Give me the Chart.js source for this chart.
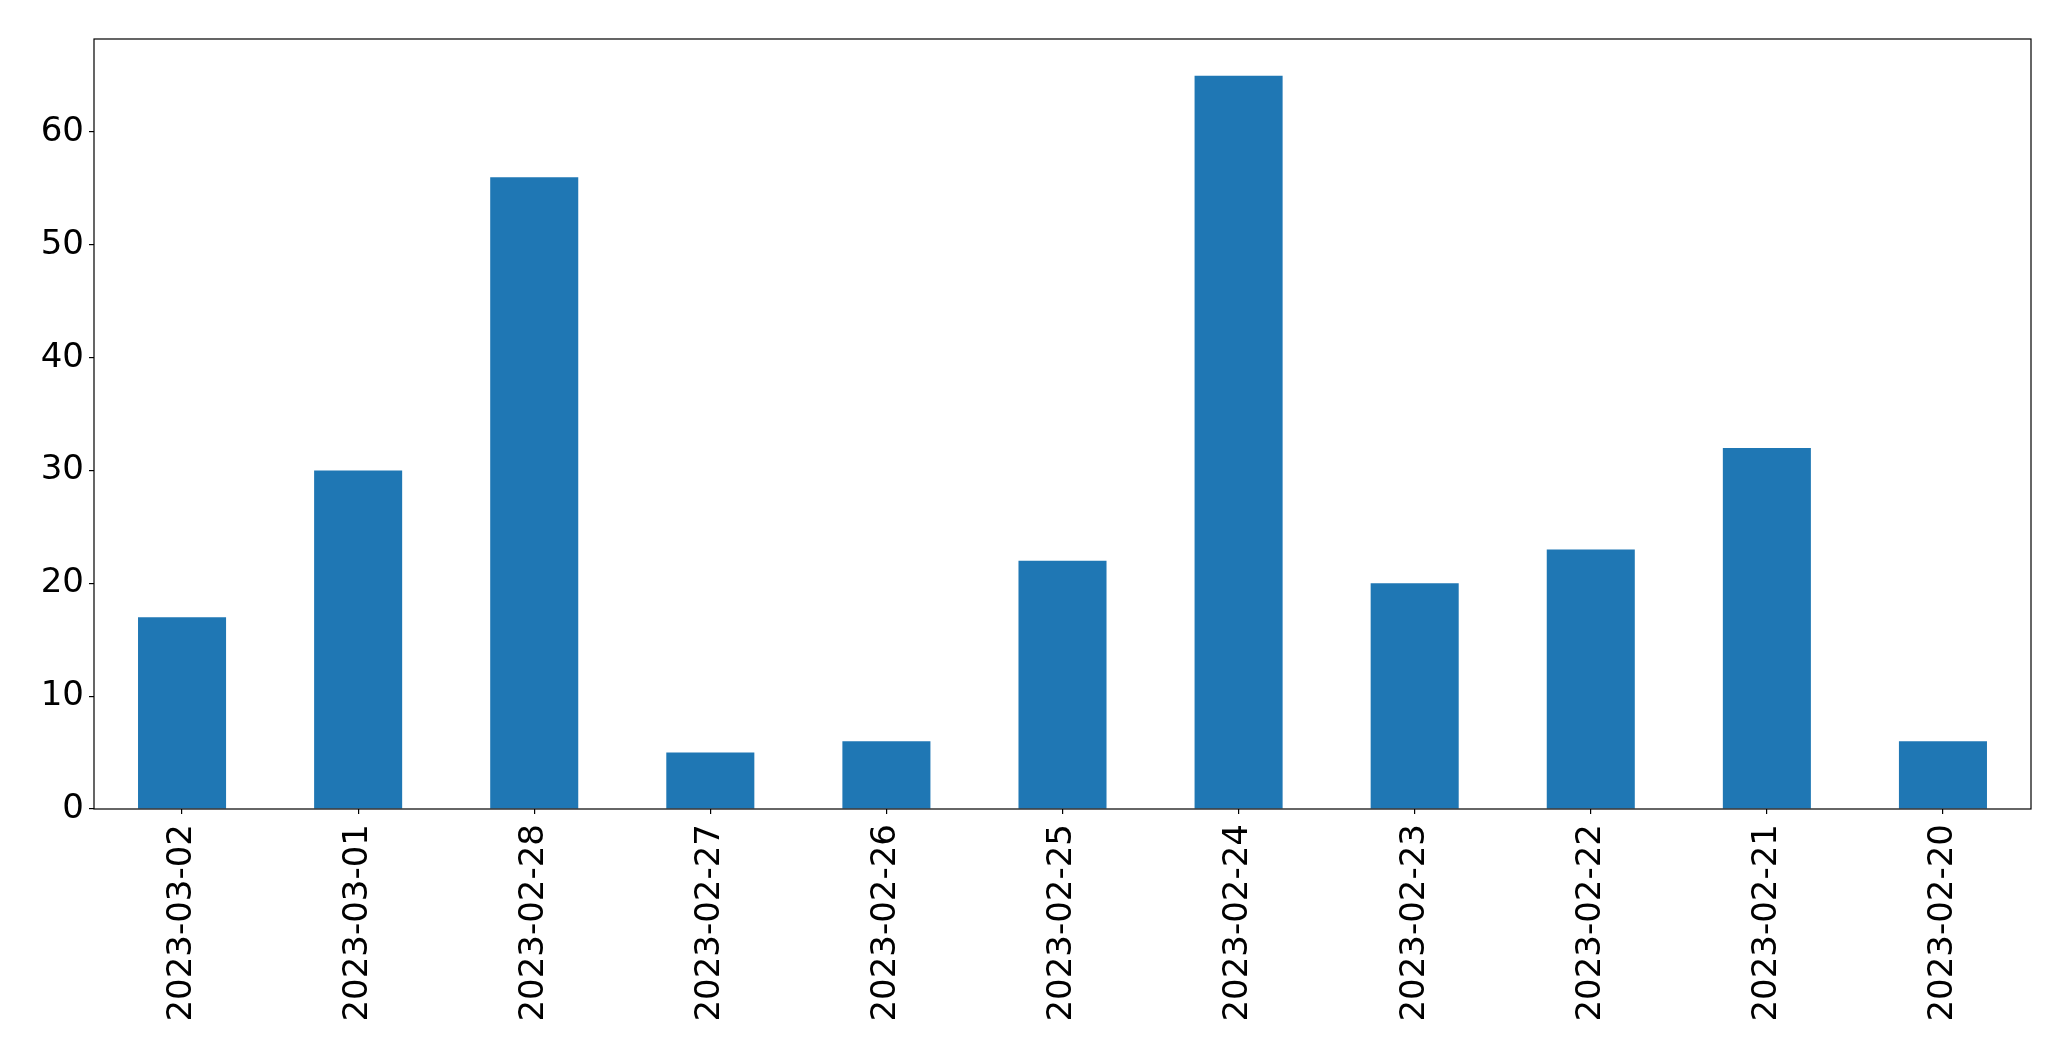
<!DOCTYPE html>
<html>
<head>
<meta charset="utf-8">
<script src="https://cdn.jsdelivr.net/npm/chart.js@4"></script>
<style>
  html, body { margin: 0; padding: 0; background: #fff; }
  #wrap { width: 2071px; height: 1061px; }
</style>
</head>
<body>
<div id="wrap"><canvas id="dailyChart" width="2071" height="1061"></canvas></div>
<script>
// Daily counts, newest first
const dates = ['2023-03-02', '2023-03-01', '2023-02-28', '2023-02-27', '2023-02-26', '2023-02-25',
               '2023-02-24', '2023-02-23', '2023-02-22', '2023-02-21', '2023-02-20'];
const counts = [17, 30, 56, 5, 6, 22, 65, 20, 23, 32, 6];
const yTicks = [0, 10, 20, 30, 40, 50, 60];

// box around the plot area, like matplotlib spines
const frame = {
    id: 'frame',
    afterDatasetsDraw(chart) {
        const a = chart.chartArea;
        const ctx = chart.ctx;
        ctx.save();
        ctx.strokeStyle = '#000';
        ctx.lineWidth = 1.2;
        ctx.strokeRect(a.left, a.top, a.right - a.left, a.bottom - a.top);
        ctx.restore();
    }
};

const font = { family: 'DejaVu Sans', size: 34 };

const ctx = document.getElementById('dailyChart').getContext('2d');
new Chart(ctx, {
    type: 'bar',
    data: {
        labels: dates,
        datasets: [{
            data: counts,
            backgroundColor: '#1f77b4',
            barPercentage: 0.5,
            categoryPercentage: 1.0
        }]
    },
    options: {
        responsive: false,
        animation: false,
        layout: { padding: { top: 39, right: 40, left: 0, bottom: 0 } },
        plugins: { legend: { display: false }, tooltip: { enabled: false } },
        scales: {
            x: {
                grid: { offset: false, drawOnChartArea: false, tickLength: 5, color: '#000', lineWidth: 1.2 },
                border: { display: false },
                ticks: { color: '#000', font: font, minRotation: 90, maxRotation: 90, padding: 10, autoSkip: false },
                afterFit(scale) { scale.height = 252; }
            },
            y: {
                min: 0,
                max: 68.25,
                grid: { drawOnChartArea: false, tickLength: 5, color: '#000', lineWidth: 1.2 },
                border: { display: false },
                ticks: { color: '#000', font: font, padding: 5 },
                afterBuildTicks(scale) { scale.ticks = yTicks.map(v => ({ value: v })); },
                afterFit(scale) { scale.width = 94; }
            }
        }
    },
    plugins: [frame]
});
</script>
</body>
</html>
